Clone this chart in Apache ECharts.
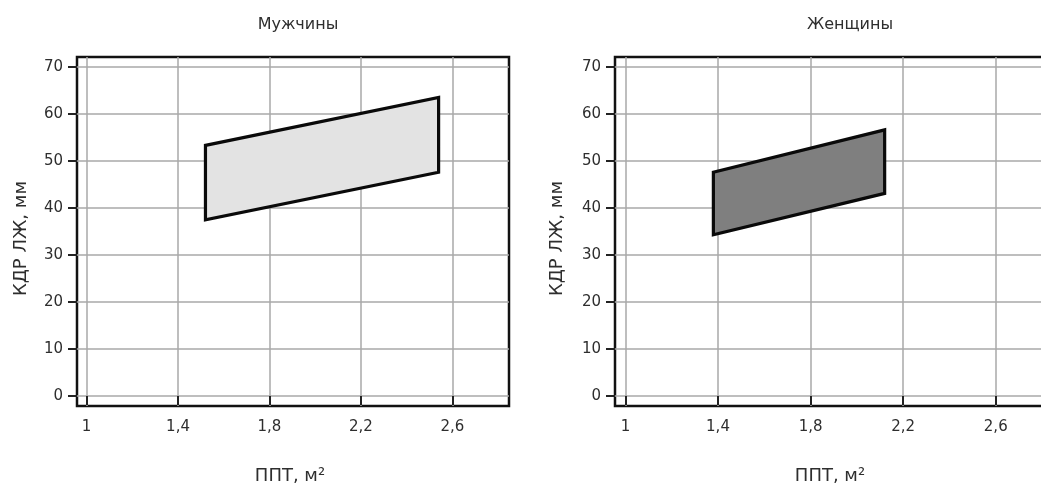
<!DOCTYPE html>
<html>
<head>
<meta charset="utf-8">
<script src="https://cdn.jsdelivr.net/npm/echarts@6/dist/echarts.min.js"></script>
<style>
html,body{margin:0;padding:0;background:#fff;}
#chart{width:1041px;height:484px;}
</style>
</head>
<body>
<div id="chart"></div>
<script>
// ---- data ----
const panelTitles = ['Мужчины', 'Женщины'];
const xTickValues = [1, 1.4, 1.8, 2.2, 2.6];
const yTickValues = [0, 10, 20, 30, 40, 50, 60, 70];
const xAxisTitle = 'ППТ, м²';
const yAxisTitle = 'КДР ЛЖ, мм';
// polygon vertices (BSA, LVEDD)
const menX = [1.52, 1.52, 2.54, 2.54];
const menY = [37.5, 53.3, 63.5, 47.6];
const womenX = [1.38, 1.38, 2.12, 2.12];
const womenY = [34.3, 47.6, 56.6, 43.1];

const FONT = 'DejaVu Sans, sans-serif';
const TXT = '#2e2e2e';

function fmt(v) { return String(v).replace('.', ','); }

function makeX(idx, min, max) {
  return {
    type: 'value', gridIndex: idx, min: min, max: max,
    axisLine: { show: false },
    axisTick: { show: true, customValues: xTickValues, length: 9, lineStyle: { color: '#222', width: 2 } },
    axisLabel: { customValues: xTickValues, formatter: fmt, margin: 14, fontSize: 15, color: TXT, fontFamily: FONT },
    splitLine: { show: true, lineStyle: { color: '#a8a8a8', width: 1.5 } }
  };
}
function makeY(idx) {
  return {
    type: 'value', gridIndex: idx, min: -2.1, max: 72.1,
    name: yAxisTitle, nameLocation: 'middle', nameGap: idx === 0 ? 47 : 49,
    nameTextStyle: { fontSize: 18, color: TXT, fontFamily: FONT, padding: [0, 14, 0, 0] },
    axisLine: { show: false },
    axisTick: { show: true, customValues: yTickValues, length: 9, lineStyle: { color: '#222', width: 2 } },
    axisLabel: { customValues: yTickValues, margin: 14, fontSize: 15, color: TXT, fontFamily: FONT },
    splitLine: { show: true, lineStyle: { color: '#a8a8a8', width: 1.5 } }
  };
}
function polySeries(idx, xs, ys, fill) {
  return {
    type: 'custom', xAxisIndex: idx, yAxisIndex: idx,
    data: [xs.concat(ys)],
    renderItem: function (params, api) {
      const n = xs.length;
      const pts = [];
      for (let i = 0; i < n; i++) pts.push(api.coord([api.value(i), api.value(n + i)]));
      return {
        type: 'polygon', shape: { points: pts },
        style: { fill: fill, stroke: '#0a0a0a', lineWidth: 3.2, lineJoin: 'miter' }
      };
    },
    z: 5
  };
}

const titleStyle = { fontSize: 16, fontWeight: 'normal', color: TXT, fontFamily: FONT };
const nameStyle = { fontSize: 18, fontWeight: 'normal', color: TXT, fontFamily: FONT };

const chart = echarts.init(document.getElementById('chart'));
chart.setOption({
  backgroundColor: '#fff',
  animation: false,
  title: [
    { text: panelTitles[0], left: 293, top: 12, textAlign: 'center', textStyle: titleStyle },
    { text: panelTitles[1], left: 845, top: 12, textAlign: 'center', textStyle: titleStyle },
    { text: xAxisTitle, left: 285, top: 462, textAlign: 'center', textStyle: nameStyle },
    { text: xAxisTitle, left: 825, top: 462, textAlign: 'center', textStyle: nameStyle }
  ],
  grid: [
    { left: 77, top: 57, width: 432, height: 349, show: true, borderColor: '#111', borderWidth: 2.5, backgroundColor: 'transparent', outerBoundsMode: 'none', containLabel: false },
    { left: 615, top: 57, width: 437, height: 349, show: true, borderColor: '#111', borderWidth: 2.5, backgroundColor: 'transparent', outerBoundsMode: 'none', containLabel: false }
  ],
  xAxis: [makeX(0, 0.958, 2.848), makeX(1, 0.955, 2.843)],
  yAxis: [makeY(0), makeY(1)],
  series: [
    polySeries(0, menX, menY, '#e3e3e3'),
    polySeries(1, womenX, womenY, '#7f7f7f')
  ]
});
</script>
</body>
</html>
